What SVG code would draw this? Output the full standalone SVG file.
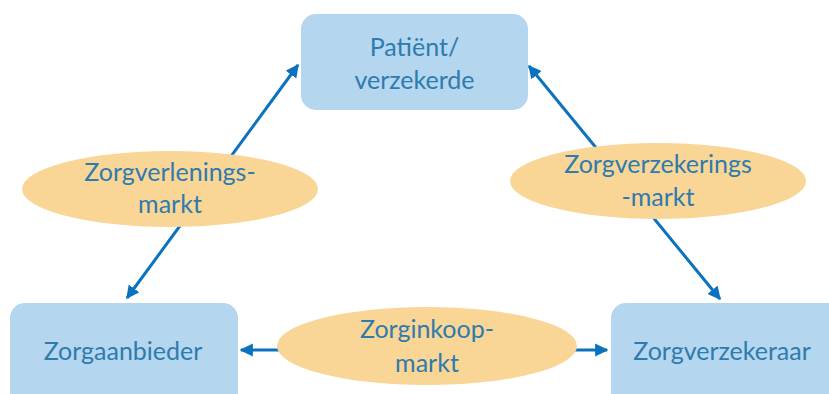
<svg xmlns="http://www.w3.org/2000/svg" width="829" height="394" viewBox="0 0 829 394">
<defs>
<marker id="ah" viewBox="0 0 10 10" refX="9" refY="5" markerWidth="4.4" markerHeight="4.4" orient="auto-start-reverse" markerUnits="strokeWidth">
<path d="M0,0 L10,5 L0,10 Z" fill="#0A72BE"/>
</marker>
<style>
.box{fill:#B4D6EE;}
.ell{fill:#F9D596;}
.t{font-family:Lato,"Open Sans","Liberation Sans",sans-serif;font-size:25px;fill:#2E7BAE;text-anchor:middle;}
.c{stroke:#0A72BE;stroke-width:3;fill:none;marker-start:url(#ah);marker-end:url(#ah);}
</style>
</defs>
<rect width="829" height="394" fill="#ffffff"/>
<g id="connectors">
<line class="c" x1="127" y1="298" x2="298" y2="65"/>
<line class="c" x1="529" y1="66" x2="720" y2="299"/>
<line class="c" x1="241" y1="350" x2="607" y2="350"/>
</g>
<g id="patient">
<rect class="box" x="301" y="14" width="227" height="96" rx="15"/>
<text class="t" x="414.5" y="56">Patiënt/</text>
<text class="t" x="414.5" y="89">verzekerde</text>
</g>
<g id="zorgaanbieder">
<rect class="box" x="10" y="303" width="228" height="110" rx="15"/>
<text class="t" x="123" y="360">Zorgaanbieder</text>
</g>
<g id="zorgverzekeraar">
<rect class="box" x="611" y="303" width="240" height="110" rx="15"/>
<text class="t" x="722" y="360">Zorgverzekeraar</text>
</g>
<g id="zorgverleningsmarkt">
<ellipse class="ell" cx="170" cy="189" rx="148" ry="38"/>
<text class="t" x="170" y="181">Zorgverlenings-</text>
<text class="t" x="170" y="213">markt</text>
</g>
<g id="zorgverzekeringsmarkt">
<ellipse class="ell" cx="658" cy="181" rx="148" ry="38"/>
<text class="t" x="658" y="173">Zorgverzekerings</text>
<text class="t" x="658" y="206">-markt</text>
</g>
<g id="zorginkoopmarkt">
<ellipse class="ell" cx="427" cy="346" rx="150" ry="39"/>
<text class="t" x="427" y="338">Zorginkoop-</text>
<text class="t" x="427" y="372">markt</text>
</g>
</svg>
